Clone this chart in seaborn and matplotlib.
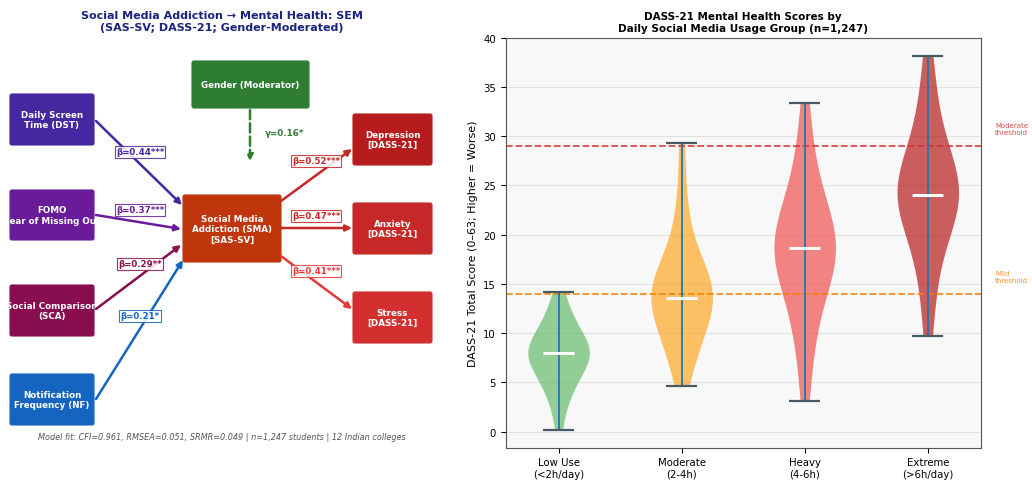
import numpy as np
import pandas as pd
import seaborn as sns
import matplotlib.pyplot as plt
from matplotlib.patches import FancyBboxPatch

# ---- data ----
groups = ["Low Use\n(<2h/day)", "Moderate\n(2-4h)", "Heavy\n(4-6h)", "Extreme\n(>6h/day)"]
low_use = [0.2, 2.5, 3.5, 4.3, 5.0, 5.5, 6.0, 6.4, 6.8, 7.2, 7.5, 7.8, 8.0,
           8.0, 8.3, 8.6, 8.9, 9.3, 9.7, 10.1, 10.6, 11.2, 11.9, 12.8, 14.2]
moderate = [4.6, 6.5, 7.8, 8.8, 9.6, 10.3, 11.0, 11.6, 12.2, 12.7, 13.1, 13.6, 13.6,
            14.1, 14.6, 15.0, 15.4, 15.8, 16.3, 17.0, 18.0, 19.5, 21.5, 24.5, 29.3]
heavy = [3.1, 7.0, 9.5, 11.5, 13.0, 14.2, 15.2, 16.0, 16.8, 17.5, 18.0, 18.6,
         18.6, 19.1, 19.7, 20.3, 21.0, 21.8, 22.7, 23.8, 25.2, 27.0, 29.5, 33.4]
extreme = [9.7, 13.8, 16.5, 18.5, 20.0, 21.2, 22.1, 22.9, 23.5, 24.0, 24.0,
           24.5, 25.1, 25.8, 26.6, 27.5, 28.6, 30.0, 32.0, 34.5, 38.1]
violin_colors = ["#66BB6A", "#FFA726", "#EF5350", "#B71C1C"]
mild_thr, moderate_thr = 14, 29

# SEM paths
predictors = ["Daily Screen\nTime (DST)", "FOMO\n(Fear of Missing Out)",
              "Social Comparison\n(SCA)", "Notification\nFrequency (NF)"]
pred_betas = ["β=0.44***", "β=0.37***", "β=0.29**", "β=0.21*"]
pred_colors = ["#4527A0", "#6A1B9A", "#880E4F", "#1565C0"]
outcomes = ["Depression\n[DASS-21]", "Anxiety\n[DASS-21]", "Stress\n[DASS-21]"]
out_betas = ["β=0.52***", "β=0.47***", "β=0.41***"]
out_colors = ["#B71C1C", "#C62828", "#D32F2F"]
gamma_txt = "γ=0.16*"

fig = plt.figure(figsize=(10.32, 4.85), dpi=100)

# ---- left: SEM diagram (pixel-like coordinates) ----
axl = fig.add_axes([0, 0, 450 / 1032, 1])
axl.set_xlim(0, 450)
axl.set_ylim(485, 0)
axl.axis("off")

def box(ax, x0, y0, x1, y1, color, text):
    p = FancyBboxPatch((x0, y0), x1 - x0, y1 - y0, boxstyle="round,pad=0,rounding_size=2",
                       fc=color, ec=color, lw=0.8)
    ax.add_patch(p)
    ax.text((x0 + x1) / 2, (y0 + y1) / 2, text, ha="center", va="center",
            color="white", fontsize=6.3, fontweight="bold", linespacing=1.2)

def arrow(ax, start, end, color, ls="-"):
    ax.annotate("", xy=end, xytext=start,
                arrowprops=dict(arrowstyle="-|>", color=color, lw=1.8, ls=ls,
                                mutation_scale=9, shrinkA=0, shrinkB=0))

def beta(ax, x, y, txt, color):
    ax.text(x, y, txt, ha="center", va="center", color=color, fontsize=6.2, fontweight="bold",
            bbox=dict(boxstyle="square,pad=0.15", fc="white", ec=color, lw=0.8, alpha=0.85))

pred_y = [(95, 146), (191, 241), (286, 337), (375, 426)]
for (y0, y1), name, c in zip(pred_y, predictors, pred_colors):
    box(axl, 10, y0, 94, y1, c, name)
box(axl, 192, 62, 309, 109, "#2E7D32", "Gender (Moderator)")
box(axl, 183, 196, 281, 263, "#BF360C", "Social Media\nAddiction (SMA)\n[SAS-SV]")
out_y = [(115, 166), (204, 255), (293, 344)]
for (y0, y1), name, c in zip(out_y, outcomes, out_colors):
    box(axl, 353, y0, 432, y1, c, name)

pred_arrows = [((96, 122), (182, 206)), ((96, 216), (181, 230)),
               ((96, 310), (181, 246)), ((96, 400), (183, 261))]
pred_lbl = [(140, 153), (140, 211), (140, 265), (140, 317)]
for (s, e), (lx, ly), t, c in zip(pred_arrows, pred_lbl, pred_betas, pred_colors):
    arrow(axl, s, e, c)
    beta(axl, lx, ly, t, c)

out_arrows = [((281, 202), (352, 150)), ((281, 229), (352, 229)), ((281, 257), (352, 310))]
out_lbl = [(316, 162), (316, 217), (316, 272)]
for (s, e), (lx, ly), t, c in zip(out_arrows, out_lbl, out_betas, ["#C62828", "#C62828", "#E53935"]):
    arrow(axl, s, e, c)
    beta(axl, lx, ly, t, c)

arrow(axl, (250, 111), (250, 162), "#2E7D32", ls="--")
axl.text(265, 134, gamma_txt, ha="left", va="center", color="#2E7D32", fontsize=6.3,
         fontweight="bold")

axl.text(222, 22, "Social Media Addiction → Mental Health: SEM\n(SAS-SV; DASS-21; Gender-Moderated)",
         ha="center", va="center", color="#1A237E", fontsize=8.0, fontweight="bold")
axl.text(222, 438, "Model fit: CFI=0.961, RMSEA=0.051, SRMR=0.049 | n=1,247 students | 12 Indian colleges",
         ha="center", va="center", color="#555555", fontsize=5.9, style="italic")

# ---- right: violin plot ----
series = [low_use, moderate, heavy, extreme]
df = pd.DataFrame({
    "group": sum([[g] * len(v) for g, v in zip(groups, series)], []),
    "score": sum(series, []),
})

axr = fig.add_axes([505.7 / 1032, 1 - 448.5 / 485, 475 / 1032, 410 / 485])
axr.set_facecolor("#F8F8F8")
sns.violinplot(data=df, x="group", y="score", hue="group", order=groups, hue_order=groups,
               palette=violin_colors, inner=None, cut=0, width=0.5, density_norm="width",
               linewidth=0, saturation=1, bw_adjust=1.0, legend=False, ax=axr)
for coll in axr.collections:
    coll.set_alpha(0.7)

pos = np.arange(len(groups))
mins = [min(v) for v in series]
maxs = [max(v) for v in series]
meds = [np.median(v) for v in series]
axr.vlines(pos, mins, maxs, color="#1f77b4", lw=1.3, zorder=3)
axr.hlines(mins, pos - 0.125, pos + 0.125, color="#455A64", lw=1.6, zorder=3)
axr.hlines(maxs, pos - 0.125, pos + 0.125, color="#455A64", lw=1.6, zorder=3)
axr.hlines(meds, pos - 0.125, pos + 0.125, color="white", lw=2.2, zorder=4)

axr.axhline(moderate_thr, color="#D32F2F", ls="--", lw=1.3, alpha=0.85, zorder=2)
axr.axhline(mild_thr, color="#F57C00", ls="--", lw=1.3, alpha=0.85, zorder=2)
tr = axr.get_yaxis_transform()
axr.text(1.03, moderate_thr + 1.8, "Moderate\nthreshold", transform=tr, color="#D32F2F",
         fontsize=5, va="center", ha="left", alpha=0.85)
axr.text(1.03, mild_thr + 1.8, "Mild\nthreshold", transform=tr, color="#F57C00",
         fontsize=5, va="center", ha="left", alpha=0.85)

axr.set_xlim(-0.43, 3.43)
axr.set_ylim(-1.6, 40)
axr.set_yticks(range(0, 41, 5))
axr.yaxis.grid(True, color="#E2E2E2", lw=0.8)
axr.set_axisbelow(True)
axr.set_xlabel("")
axr.set_ylabel("DASS-21 Total Score (0–63; Higher = Worse)", fontsize=8)
axr.tick_params(labelsize=7.3)
for s in axr.spines.values():
    s.set_color("#555555")
axr.set_title("DASS-21 Mental Health Scores by\nDaily Social Media Usage Group (n=1,247)",
              fontsize=7.5, fontweight="bold", pad=5)

fig.savefig("out.png", dpi=100)
